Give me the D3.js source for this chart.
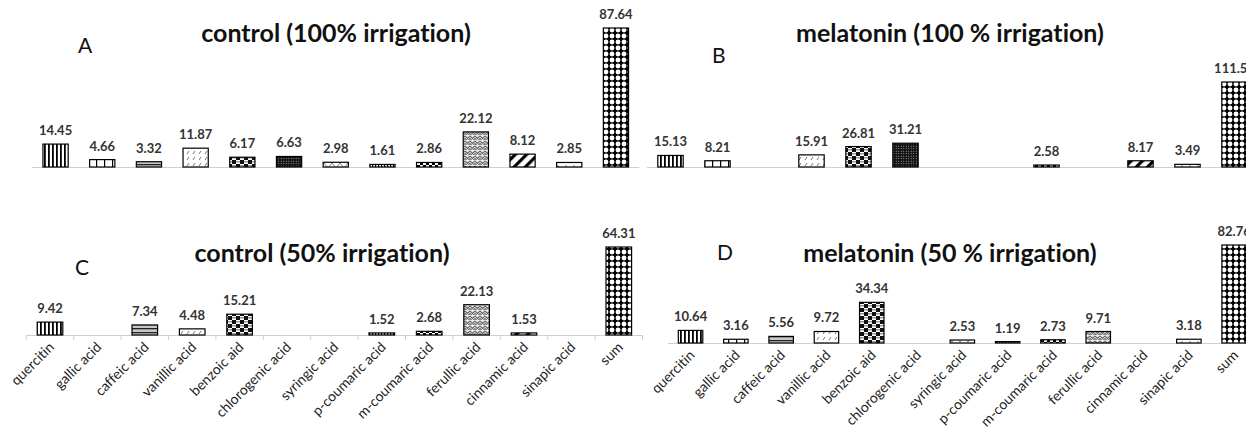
<!DOCTYPE html>
<html>
<head>
<meta charset="utf-8">
<script src="https://cdn.jsdelivr.net/npm/d3@7"></script>
<style>
  body { margin: 0; background: #fff; }
  svg { display: block; }
  text { font-variant-ligatures: none; }
</style>
</head>
<body>
<div id="chart"></div>
<script>
// categories shared by the four panels
var categories = ["quercitin", "gallic acid", "caffeic acid", "vanillic acid", "benzoic aid",
  "chlorogenic acid", "syringic acid", "p-coumaric acid", "m-coumaric acid", "ferullic acid",
  "cinnamic acid", "sinapic acid", "sum"];

// values (null = not detected)
var controlFull   = [14.45, 4.66, 3.32, 11.87, 6.17, 6.63, 2.98, 1.61, 2.86, 22.12, 8.12, 2.85, 87.64];
var melatoninFull = [15.13, 8.21, null, 15.91, 26.81, 31.21, null, null, 2.58, null, 8.17, 3.49, 111.51];
var controlHalf   = [9.42, null, 7.34, 4.48, 15.21, null, null, 1.52, 2.68, 22.13, 1.53, null, 64.31];
var melatoninHalf = [10.64, 3.16, 5.56, 9.72, 34.34, null, 2.53, 1.19, 2.73, 9.71, null, 3.18, 82.76];

var titles = ["control (100% irrigation)", "melatonin (100 % irrigation)",
  "control (50% irrigation)", "melatonin (50 % irrigation)"];
var letters = ["A", "B", "C", "D"];

var W = 1246, H = 432;
var svg = d3.select("#chart").append("svg")
  .attr("width", W).attr("height", H);

var defs = svg.append("defs");

// fill patterns, one per category
function pat(id, w, h, bg) {
  var p = defs.append("pattern").attr("id", id)
    .attr("patternUnits", "userSpaceOnUse").attr("width", w).attr("height", h);
  p.append("rect").attr("width", w).attr("height", h).attr("fill", bg);
  return p;
}
var p;
p = pat("p0", 4, 4, "#fff");
p.append("rect").attr("x", 0).attr("width", 1.8).attr("height", 4).attr("fill", "#000");
p = pat("p1", 8, 8, "#fff");
p.append("rect").attr("x", 0).attr("width", 1.2).attr("height", 8).attr("fill", "#000");
p = pat("p2", 4, 4, "#c8c8c8");
p.append("rect").attr("y", 0).attr("width", 4).attr("height", 1.3).attr("fill", "#222");
p = pat("p3", 6, 6, "#fff");
p.append("path").attr("d", "M1,4 L3,1").attr("stroke", "#777").attr("stroke-width", 1);
p = pat("p4", 8, 8, "#fff");
p.append("rect").attr("x", 0).attr("y", 0).attr("width", 4).attr("height", 4).attr("fill", "#111");
p.append("rect").attr("x", 4).attr("y", 4).attr("width", 4).attr("height", 4).attr("fill", "#111");
p.append("rect").attr("x", 4).attr("y", 1).attr("width", 4).attr("height", 1.5).attr("fill", "#999");
p.append("rect").attr("x", 0).attr("y", 5).attr("width", 4).attr("height", 1.5).attr("fill", "#999");
p = pat("p5", 2.5, 2.5, "#111");
p.append("circle").attr("cx", 1.2).attr("cy", 1.2).attr("r", 0.55).attr("fill", "#bbb");
p = pat("p6", 8, 6, "#fff");
p.append("path").attr("d", "M0,6 L4,1 L8,6").attr("fill", "none").attr("stroke", "#666").attr("stroke-width", 0.8);
p = pat("p7", 3, 4, "#fff");
p.append("rect").attr("x", 0).attr("y", 0).attr("width", 1.2).attr("height", 3).attr("fill", "#000");
p = pat("p8", 6, 6, "#fff");
p.append("rect").attr("x", 0).attr("y", 0).attr("width", 3).attr("height", 3).attr("fill", "#000");
p.append("rect").attr("x", 3).attr("y", 3).attr("width", 3).attr("height", 3).attr("fill", "#000");
p = pat("p9", 5, 5, "#eee");
p.append("path").attr("d", "M0,1 L2.5,3.5 L5,1 M0,3.5 L2.5,6 L5,3.5").attr("fill", "none").attr("stroke", "#666").attr("stroke-width", 1.1);
p = pat("p10", 8, 8, "#fff").attr("patternTransform", "rotate(45)");
p.append("rect").attr("x", 0).attr("width", 3.2).attr("height", 8).attr("fill", "#000");
p = pat("p11", 8, 8, "#fff");
p.append("circle").attr("cx", 2).attr("cy", 2).attr("r", 0.7).attr("fill", "#555");
p.append("circle").attr("cx", 6).attr("cy", 6).attr("r", 0.7).attr("fill", "#555");
p = pat("p12", 6, 6, "#000");
[[0, 0], [6, 0], [0, 6], [6, 6]].forEach(function(c) {
  p.append("circle").attr("cx", c[0]).attr("cy", c[1]).attr("r", 2.45).attr("fill", "#fff");
});

var font = "Lato, 'Open Sans', sans-serif";

// panel geometry
var panels = [
  { vals: controlFull,   x0: 32.2,  x1: 639.3,  base: 167, top: 28,  ticks: false, labels: false,
    title: [336, 42], letter: [78, 53] },
  { vals: melatoninFull, x0: 647,   x1: 1258,   base: 167, top: 82,  ticks: false, labels: false,
    title: [950, 42], letter: [712, 63] },
  { vals: controlHalf,   x0: 26.3,  x1: 642.5,  base: 335, top: 247, ticks: true,  labels: true,
    title: [322, 262], letter: [75, 275] },
  { vals: melatoninHalf, x0: 667.9, x1: 1256.8, base: 343, top: 245, ticks: false, labels: true,
    title: [950, 262], letter: [717, 260] }
];

panels.forEach(function(cfg, k) {
  var g = svg.append("g");
  var x = d3.scaleBand().domain(categories).range([cfg.x0, cfg.x1])
    .paddingInner(0.46).paddingOuter(0.23);
  var maxV = d3.max(cfg.vals);
  var y = d3.scaleLinear().domain([0, maxV]).range([cfg.base, cfg.top]);

  var data = categories.map(function(c, i) { return { c: c, v: cfg.vals[i], i: i }; })
    .filter(function(d) { return d.v != null; });

  // axis line
  g.append("line")
    .attr("x1", cfg.x0).attr("x2", cfg.x1)
    .attr("y1", cfg.base + 0.5).attr("y2", cfg.base + 0.5)
    .attr("stroke", "#d0d0d0").attr("stroke-width", 1.2);

  if (cfg.ticks) {
    var bounds = d3.range(categories.length + 1).map(function(i) { return cfg.x0 + i * x.step(); });
    g.selectAll("line.tick").data(bounds).enter().append("line")
      .attr("class", "tick")
      .attr("x1", function(d) { return d; }).attr("x2", function(d) { return d; })
      .attr("y1", cfg.base).attr("y2", cfg.base + 5)
      .attr("stroke", "#d0d0d0").attr("stroke-width", 1);
  }

  g.selectAll("rect.bar").data(data).enter().append("rect")
    .attr("class", "bar")
    .attr("x", function(d) { return x(d.c); })
    .attr("width", x.bandwidth())
    .attr("y", function(d) { return y(d.v); })
    .attr("height", function(d) { return cfg.base - y(d.v); })
    .attr("fill", function(d) { return "url(#p" + d.i + ")"; })
    .attr("stroke", "#000").attr("stroke-width", 1.2);

  g.selectAll("text.val").data(data).enter().append("text")
    .attr("class", "val")
    .attr("x", function(d) { return x(d.c) + x.bandwidth() / 2; })
    .attr("y", function(d) { return y(d.v) - 9; })
    .attr("text-anchor", "middle")
    .attr("font-family", font).attr("font-weight", "bold").attr("font-size", 13)
    .attr("fill", "#333")
    .text(function(d) { return d.v.toFixed(2); });

  if (cfg.labels) {
    g.selectAll("text.cat").data(categories).enter().append("text")
      .attr("class", "cat")
      .attr("transform", function(d) {
        return "translate(" + (x(d) + x.bandwidth() / 2 + 5) + "," + (cfg.base + 13) + ") rotate(-45)";
      })
      .attr("text-anchor", "end")
      .attr("font-family", font).attr("font-size", 14)
      .attr("fill", "#222")
      .text(function(d) { return d; });
  }

  g.append("text")
    .attr("x", cfg.title[0]).attr("y", cfg.title[1])
    .attr("text-anchor", "middle")
    .attr("font-family", font).attr("font-weight", "bold").attr("font-size", 25)
    .attr("fill", "#111")
    .text(titles[k]);

  g.append("text")
    .attr("x", cfg.letter[0]).attr("y", cfg.letter[1])
    .attr("font-family", font).attr("font-size", 21)
    .attr("fill", "#111")
    .text(letters[k]);
});
</script>
</body>
</html>
